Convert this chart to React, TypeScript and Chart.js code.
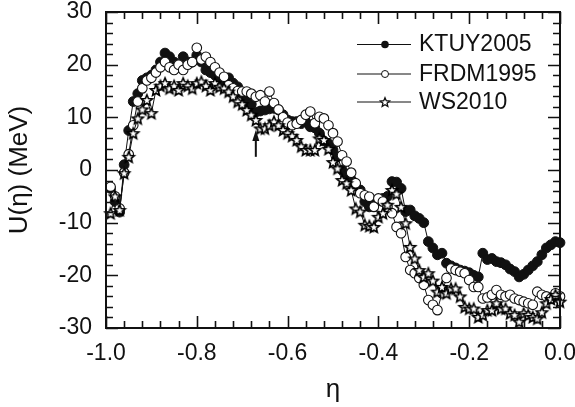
import React, { useEffect, useRef } from "react";
import { Chart, registerables } from "chart.js";

Chart.register(...registerables);

const eta = [
  -0.99, -0.98, -0.97, -0.96, -0.95, -0.94, -0.93, -0.92, -0.91, -0.9,
  -0.89, -0.88, -0.87, -0.86, -0.85, -0.84, -0.83, -0.82, -0.81, -0.8,
  -0.79, -0.78, -0.77, -0.76, -0.75, -0.74, -0.73, -0.72, -0.71, -0.7,
  -0.69, -0.68, -0.67, -0.66, -0.65, -0.64, -0.63, -0.62, -0.61, -0.6,
  -0.59, -0.58, -0.57, -0.56, -0.55, -0.54, -0.53, -0.52, -0.51, -0.5,
  -0.49, -0.48, -0.47, -0.46, -0.45, -0.44, -0.43, -0.42, -0.41, -0.4,
  -0.39, -0.38, -0.37, -0.36, -0.35, -0.34, -0.33, -0.32, -0.31, -0.3,
  -0.29, -0.28, -0.27, -0.26, -0.25, -0.24, -0.23, -0.22, -0.21, -0.2,
  -0.19, -0.18, -0.17, -0.16, -0.15, -0.14, -0.13, -0.12, -0.11, -0.1,
  -0.09, -0.08, -0.07, -0.06, -0.05, -0.04, -0.03, -0.02, -0.01, 0.0,
];

const ktuy = [
  -3.5, -6, -8, 1, 7.5, 13, 14.5, 17, 17.5, 18,
  19, 20.5, 22.2, 21.5, 20.5, 19.5, 21.5, 20.5, 20.5, 21.8,
  20.5, 19, 18.5, 18, 17.5, 17, 17.5, 16.5, 15.8, 14.5,
  13, 12.5, 11, 11.2, 11.4, 11.6, 11.7, 11.4, 10.5, 9.5,
  9.2, 9.2, 8.8, 9.2, 8.2, 8, 7, 5.5, 5, 3.8,
  2.5, 0, -1, -1.8, -3, -3.8, -6, -7, -6.5, -5.8,
  -5.4, -5, -2.2, -2.3, -3.5, -7.9, -7.6, -8.7, -9.2, -10,
  -13.6, -14.8, -16.1, -15.8, -17.7, -18.2, -18.6, -19, -19.2, -19.5,
  -20, -20.3, -15.8, -17, -16.8, -17.4, -17.6, -18, -18.8, -19.3,
  -20.3, -19.8, -19, -18.2, -17.4, -16.1, -14.8, -14.2, -13.6, -13.8,
];

const frdm = [
  -3.2, -5, -7.3, -0.5, 3, 8.5, 13, 15.5, 17, 17.5,
  18.5, 19.5, 20.5, 19.5, 19, 20, 19, 20, 20.5, 23.2,
  21, 21.5, 20.5, 19.5, 18.5, 17.7, 16.1, 15.5, 15, 14.9,
  14.9, 14.5, 13.9, 14.2, 13, 14.9, 12.7, 11.5, 10, 9,
  8.5, 8.8, 9.5, 10.5, 11.1, 8.9, 10.1, 9.8, 8.5, 7,
  5.4, 2.8, 1.6, -0.5, -2.5, -4.4, -4.8, -5.1, -7, -5.4,
  -6, -7, -8.2, -10.8, -12, -16.5, -19, -19.6, -20.5, -21.8,
  -24.7, -25.6, -26.6, -23.4, -20.5, -18.7, -19, -19.3, -19.6, -20.9,
  -22.2, -22.2, -24.4, -24.2, -23.7, -22.8, -23.7, -24, -23.7, -24.4,
  -24.7, -25, -25.3, -25.6, -23.1, -23.7, -24, -24.4, -23.4, -24,
];

const ws = [
  -8.2, -5, -7.6, -0.6, 2.5, 7, 9.8, 11.5, 13.3, 10.8,
  15.2, 16, 16.5, 15.5, 16, 15.2, 16.5, 16, 15.5, 16.5,
  16.8, 16, 15.2, 16.5, 15.8, 15.5, 14.9, 14, 13, 12.5,
  11.4, 10.5, 9.5, 7.9, 7.9, 8.5, 9.2, 8.5, 7.6, 7,
  6.5, 5.7, 4.5, 3.8, 3.8, 3.8, 6, 5.7, 4, 1.5,
  0.3, -1.9, -2.5, -3.8, -7.3, -7.9, -10.4, -10.6, -10.8, -8.9,
  -8.2, -6.6, -3.8, -4.5, -7, -10.1, -14.6, -16.8, -19, -20.3,
  -19.6, -21, -23.1, -22.2, -23.4, -22.5, -22.5, -24, -26, -26.3,
  -26.3, -27.9, -27.5, -26.6, -26.6, -25.3, -26.3, -26.3, -27.2, -27.5,
  -28.8, -27.2, -27.5, -27.9, -28.2, -27, -25.3, -24.5, -23.7, -25,
];

const seriesNames = ["KTUY2005", "FRDM1995", "WS2010"];
const xTickValues = [-1.0, -0.8, -0.6, -0.4, -0.2, 0.0];
const yTickValues = [-30, -20, -10, 0, 10, 20, 30];
const arrowEta = -0.67;
const arrowFromU = 2.5;
const arrowToU = 7.6;

const FONT = "'Liberation Sans', Arial, sans-serif";
const INK = "#111";

function drawStarPath(ctx: CanvasRenderingContext2D, cx: number, cy: number, R: number) {
  const r = R * 0.45;
  ctx.beginPath();
  for (let i = 0; i < 10; i++) {
    const rad = i % 2 === 0 ? R : r;
    const a = -Math.PI / 2 + (i * Math.PI) / 5;
    const px = cx + rad * Math.cos(a);
    const py = cy + rad * Math.sin(a);
    if (i === 0) ctx.moveTo(px, py);
    else ctx.lineTo(px, py);
  }
  ctx.closePath();
}

function makeStarCanvas(R: number): HTMLCanvasElement {
  const c = document.createElement("canvas");
  const s = Math.ceil(2 * R + 4);
  c.width = s;
  c.height = s;
  const ctx = c.getContext("2d")!;
  drawStarPath(ctx, s / 2, s / 2 + 0.6, R);
  ctx.fillStyle = "#fff";
  ctx.fill();
  ctx.strokeStyle = "#000";
  ctx.lineWidth = 1.6;
  ctx.lineJoin = "miter";
  ctx.stroke();
  return c;
}

const framePlugin = {
  id: "frameTicks",
  afterDatasetsDraw(chart: any) {
    const { ctx, chartArea, scales } = chart;
    const xs = scales.x;
    const ys = scales.y;
    const { left, right, top, bottom } = chartArea;
    ctx.save();
    ctx.strokeStyle = INK;
    ctx.lineWidth = 1.6;
    for (let k = 0; k <= 25; k++) {
      const v = -1 + k * 0.04;
      const px = Math.round(xs.getPixelForValue(v)) + 0.5;
      const len = k % 5 === 0 ? 12 : 7;
      ctx.beginPath();
      ctx.moveTo(px, bottom);
      ctx.lineTo(px, bottom - len);
      ctx.moveTo(px, top);
      ctx.lineTo(px, top + len);
      ctx.stroke();
    }
    for (let k = 0; k <= 30; k++) {
      const v = -30 + k * 2;
      const py = Math.round(ys.getPixelForValue(v)) + 0.5;
      const len = k % 5 === 0 ? 12 : 7;
      ctx.beginPath();
      ctx.moveTo(left, py);
      ctx.lineTo(left + len, py);
      ctx.moveTo(right, py);
      ctx.lineTo(right - len, py);
      ctx.stroke();
    }
    ctx.lineWidth = 2;
    ctx.strokeRect(left, top, right - left, bottom - top);

    // arrow
    const ax = xs.getPixelForValue(arrowEta);
    const ay0 = ys.getPixelForValue(arrowFromU);
    const ay1 = ys.getPixelForValue(arrowToU);
    ctx.lineWidth = 2;
    ctx.beginPath();
    ctx.moveTo(ax, ay0);
    ctx.lineTo(ax, ay1 + 8);
    ctx.stroke();
    ctx.fillStyle = INK;
    ctx.beginPath();
    ctx.moveTo(ax, ay1);
    ctx.lineTo(ax - 3.5, ay1 + 11);
    ctx.lineTo(ax + 3.5, ay1 + 11);
    ctx.closePath();
    ctx.fill();

    // legend
    const rows = [44, 73.5, 101.5];
    const lx0 = 357;
    const lx1 = 411;
    const mx = 385;
    ctx.font = `23px ${FONT}`;
    ctx.textBaseline = "middle";
    ctx.textAlign = "left";
    rows.forEach((ry, i) => {
      ctx.strokeStyle = INK;
      ctx.lineWidth = 1;
      ctx.beginPath();
      ctx.moveTo(lx0, ry + 0.5);
      ctx.lineTo(lx1, ry + 0.5);
      ctx.stroke();
      if (i === 0) {
        ctx.fillStyle = INK;
        ctx.beginPath();
        ctx.arc(mx, ry + 0.5, 3.8, 0, Math.PI * 2);
        ctx.fill();
      } else if (i === 1) {
        ctx.fillStyle = "#fff";
        ctx.beginPath();
        ctx.arc(mx, ry + 0.5, 3.5, 0, Math.PI * 2);
        ctx.fill();
        ctx.stroke();
      } else {
        drawStarPath(ctx, mx, ry + 1, 4.8);
        ctx.fillStyle = "#fff";
        ctx.fill();
        ctx.lineWidth = 1.3;
        ctx.stroke();
      }
      ctx.fillStyle = INK;
      ctx.fillText(seriesNames[i], 419, ry + 1);
    });
    ctx.restore();
  },
};

function noOverhang(scale: any) {
  scale.paddingTop = 0;
  scale.paddingBottom = 0;
  scale.paddingLeft = 0;
  scale.paddingRight = 0;
}

export default function App() {
  const ref = useRef<HTMLCanvasElement | null>(null);

  useEffect(() => {
    document.body.style.margin = "0";
    const canvas = ref.current;
    if (!canvas) return;
    const star = makeStarCanvas(5.8);
    const toPts = (arr: number[]) => eta.map((e, i) => ({ x: e, y: arr[i] }));
    const chart = new Chart(canvas, {
      type: "line",
      data: {
        datasets: [
          {
            label: seriesNames[0],
            data: toPts(ktuy),
            borderColor: INK,
            borderWidth: 1,
            backgroundColor: INK,
            pointBackgroundColor: INK,
            pointBorderColor: INK,
            pointBorderWidth: 1,
            pointRadius: 4.9,
            pointStyle: "circle",
            order: 3,
            clip: false as any,
          },
          {
            label: seriesNames[1],
            data: toPts(frdm),
            borderColor: INK,
            borderWidth: 1,
            backgroundColor: "#fff",
            pointBackgroundColor: "#fff",
            pointBorderColor: INK,
            pointBorderWidth: 1.1,
            pointRadius: 4.8,
            pointStyle: "circle",
            order: 2,
            clip: false as any,
          },
          {
            label: seriesNames[2],
            data: toPts(ws),
            borderColor: INK,
            borderWidth: 1,
            backgroundColor: "#fff",
            pointStyle: star as any,
            pointRadius: 5,
            order: 1,
            clip: false as any,
          },
        ],
      },
      options: {
        responsive: false,
        animation: false,
        devicePixelRatio: 1,
        layout: { padding: { left: 0, top: 12, right: 15, bottom: 0 } },
        plugins: {
          legend: { display: false },
          tooltip: { enabled: false },
        },
        elements: { line: { tension: 0 } },
        scales: {
          x: {
            type: "linear",
            min: -1,
            max: 0,
            afterBuildTicks: (scale: any) => {
              scale.ticks = xTickValues.map((v) => ({ value: v }));
            },
            afterFit: (scale: any) => {
              scale.height = 79;
              noOverhang(scale);
            },
            ticks: {
              color: INK,
              font: { size: 23, family: FONT },
              padding: 12,
              maxRotation: 0,
              callback: (v: any) => Number(v).toFixed(1),
            },
            grid: { display: false, drawTicks: false },
            border: { display: false },
            title: {
              display: true,
              text: "η",
              color: INK,
              font: { size: 26, family: FONT },
              padding: { top: 0, bottom: 2 },
            },
          },
          y: {
            type: "linear",
            min: -30,
            max: 30,
            afterBuildTicks: (scale: any) => {
              scale.ticks = yTickValues.map((v) => ({ value: v }));
            },
            afterFit: (scale: any) => {
              scale.width = 106;
              noOverhang(scale);
            },
            ticks: {
              color: INK,
              font: { size: 23, family: FONT },
              padding: 14,
              callback: (v: any) => String(v),
            },
            grid: { display: false, drawTicks: false },
            border: { display: false },
            title: {
              display: true,
              text: "U(η) (MeV)",
              color: INK,
              font: { size: 26, family: FONT },
              padding: { top: 4, bottom: 0 },
            },
          },
        },
      },
      plugins: [framePlugin],
    });
    return () => chart.destroy();
  }, []);

  return (
    <canvas
      ref={ref}
      width={575}
      height={407}
      style={{ display: "block", width: 575, height: 407 }}
    />
  );
}
